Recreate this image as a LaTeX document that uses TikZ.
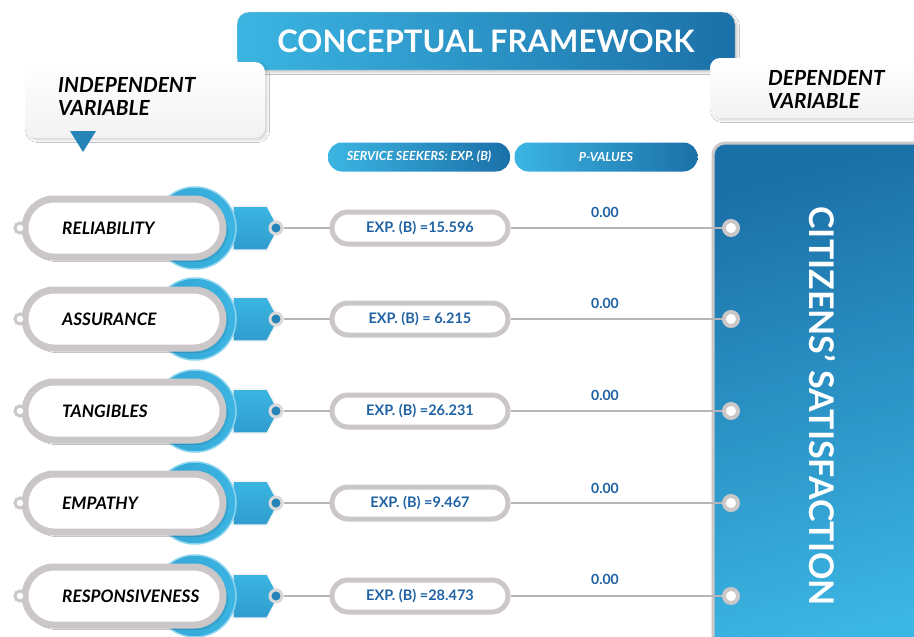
\documentclass[tikz,border=0pt]{standalone}
\usepackage{fontspec}
\setmainfont{Lato}
\usetikzlibrary{shapes.symbols,shadows.blur}

\definecolor{skyblue}{HTML}{3BB5E2}
\definecolor{deepblue}{HTML}{1B70A8}
\definecolor{valblue}{HTML}{1F62A4}
\definecolor{rimgray}{HTML}{CBC7C9}
\definecolor{linegray}{HTML}{B8B5B7}

\begin{document}
\begin{tikzpicture}[x=1pt, y=-1pt,
    varbox/.style={rectangle, rounded corners=10pt, top color=white, bottom color=black!5, blur shadow={shadow opacity=15}},
    vartext/.style={anchor=west, align=left, inner sep=0pt, font=\fontsize{20.8}{23}\selectfont\bfseries\itshape},
    headpill/.style={rectangle, rounded corners=14pt, minimum width=182pt, minimum height=29pt, left color=skyblue, right color=deepblue, text=white, font=\fontsize{12.5}{14}\selectfont\bfseries\itshape},
    ring/.style={circle, minimum size=82pt, left color=skyblue!75!deepblue, right color=skyblue, draw=skyblue!60!white, line width=1.5pt},
    tab/.style={signal, signal to=east, signal pointer angle=124, minimum width=46pt, minimum height=44pt, top color=skyblue, bottom color=skyblue!65!deepblue, draw=white!80!rimgray, line width=1.5pt},
    pill/.style={rectangle, draw=rimgray, line width=7pt, fill=white, rounded corners=29pt, minimum width=198pt, minimum height=58pt, blur shadow={shadow opacity=25}},
    factor/.style={anchor=west, inner sep=0pt, font=\fontsize{17.2}{19}\selectfont\bfseries\itshape},
    hole/.style={circle, fill=white, draw=rimgray, line width=3pt, minimum size=10pt, inner sep=0pt},
    knob/.style={circle, fill=deepblue!70!skyblue, draw=rimgray!70, line width=3pt, minimum size=12pt, inner sep=0pt},
    vpill/.style={rectangle, draw=rimgray, line width=5pt, fill=white, rounded corners=16pt, minimum width=176pt, minimum height=32pt, text=valblue, font=\fontsize{14.5}{16}\selectfont\bfseries},
    pval/.style={text=valblue, font=\fontsize{14}{16}\selectfont\bfseries},
    socket/.style={circle, fill=white, draw=rimgray, line width=4pt, minimum size=14pt, inner sep=0pt},
    link/.style={draw=linegray, line width=2pt}]

    \useasboundingbox (0,0) rectangle (914,637);
    \fill[white] (0,0) rectangle (914,637);

    % title bar
    \node[rectangle, rounded corners=12pt, minimum width=498pt, minimum height=58pt, left color=skyblue, right color=deepblue, draw=rimgray!70, text=white, font=\fontsize{31}{34}\selectfont\bfseries, blur shadow={shadow opacity=20}] (title) at (486,41) {CONCEPTUAL FRAMEWORK};

    % variable boxes
    \node[varbox, minimum width=240pt, minimum height=76pt] (indep) at (145,100) {};
    \node[vartext] (indeplbl) at (58,96) {INDEPENDENT\\VARIABLE};
    \fill[deepblue!70!skyblue] (70,131) -- (96,131) -- (83,152) -- cycle;
    \node[varbox, minimum width=220pt, minimum height=60pt] (dep) at (820,88) {};
    \node[vartext] (deplbl) at (768,89) {DEPENDENT\\VARIABLE};

    % column heads
    \node[headpill] (hexp) at (419,157) {SERVICE SEEKERS: EXP. (B)};
    \node[headpill, minimum width=183pt] (hpval) at (606,157) {P-VALUES};

    % citizens' satisfaction panel
    \shade[top color=deepblue, bottom color=skyblue, shading angle=15, rounded corners=12pt, draw=rimgray, line width=3pt] (713,143) rectangle (930,660);
    \node[rotate=-90, text=white, font=\fontsize{34}{36}\selectfont\bfseries] (sat) at (822,406) {CITIZENS’ SATISFACTION};

    % reliability
    \node[tab] (t1) at (250,228) {}; \node[ring] (r1) at (195,228) {};
    \node[pill] (p1) at (124,228) {}; \node[hole] (h1) at (20,228) {}; \node[knob] (k1) at (276,228) {};
    \node[factor] (f1) at (62,228) {RELIABILITY};
    \node[vpill] (v1) at (420,228) {EXP. (B) =15.596};
    \node[pval] (q1) at (605,212) {0.00};
    \node[socket] (s1) at (731,228) {};
    \draw[link] (k1) -- (v1) -- (s1);

    % assurance
    \node[tab] (t2) at (250,319) {}; \node[ring] (r2) at (195,319) {};
    \node[pill] (p2) at (124,319) {}; \node[hole] (h2) at (20,319) {}; \node[knob] (k2) at (276,319) {};
    \node[factor] (f2) at (62,319) {ASSURANCE};
    \node[vpill] (v2) at (420,319) {EXP. (B) = 6.215};
    \node[pval] (q2) at (605,303) {0.00};
    \node[socket] (s2) at (731,319) {};
    \draw[link] (k2) -- (v2) -- (s2);

    % tangibles
    \node[tab] (t3) at (250,411) {}; \node[ring] (r3) at (195,411) {};
    \node[pill] (p3) at (124,411) {}; \node[hole] (h3) at (20,411) {}; \node[knob] (k3) at (276,411) {};
    \node[factor] (f3) at (62,411) {TANGIBLES};
    \node[vpill] (v3) at (420,411) {EXP. (B) =26.231};
    \node[pval] (q3) at (605,395) {0.00};
    \node[socket] (s3) at (731,411) {};
    \draw[link] (k3) -- (v3) -- (s3);

    % empathy
    \node[tab] (t4) at (250,503) {}; \node[ring] (r4) at (195,503) {};
    \node[pill] (p4) at (124,503) {}; \node[hole] (h4) at (20,503) {}; \node[knob] (k4) at (276,503) {};
    \node[factor] (f4) at (62,503) {EMPATHY};
    \node[vpill] (v4) at (420,503) {EXP. (B) =9.467};
    \node[pval] (q4) at (605,488) {0.00};
    \node[socket] (s4) at (731,503) {};
    \draw[link] (k4) -- (v4) -- (s4);

    % responsiveness
    \node[tab] (t5) at (250,596) {}; \node[ring] (r5) at (195,596) {};
    \node[pill] (p5) at (124,596) {}; \node[hole] (h5) at (20,596) {}; \node[knob] (k5) at (276,596) {};
    \node[factor] (f5) at (62,596) {RESPONSIVENESS};
    \node[vpill] (v5) at (420,596) {EXP. (B) =28.473};
    \node[pval] (q5) at (605,579) {0.00};
    \node[socket] (s5) at (731,596) {};
    \draw[link] (k5) -- (v5) -- (s5);
\end{tikzpicture}
\end{document}
